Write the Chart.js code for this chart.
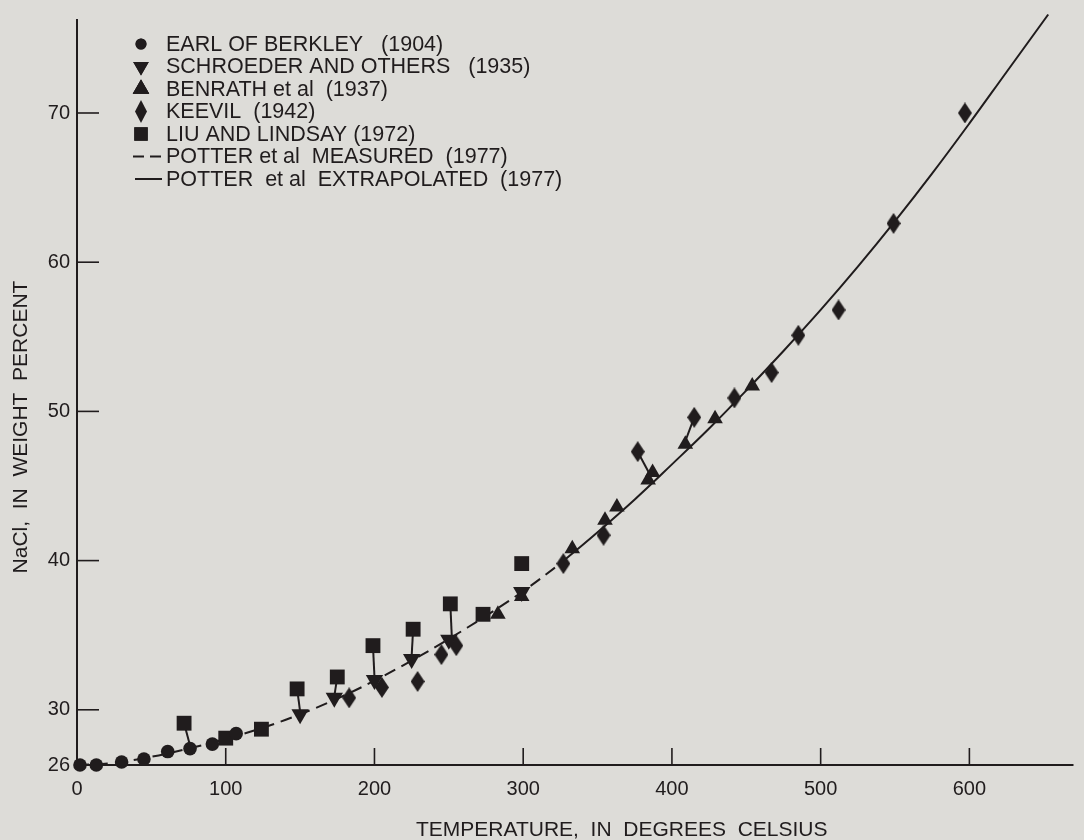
<!DOCTYPE html>
<html>
<head>
<meta charset="utf-8">
<script src="https://cdn.jsdelivr.net/npm/chart.js@4.4.1/dist/chart.umd.min.js"></script>
<style>
  html, body { margin: 0; padding: 0; background: #dddcd8; }
  #wrap { position: relative; width: 1084px; height: 840px; }
</style>
</head>
<body>
<div id="wrap"><canvas id="chart" width="1084" height="840"></canvas></div>
<script>
// values (temperature in deg C, NaCl in weight percent)
const BERKLEY_T = [2, 13, 30, 45, 61, 76, 91, 107];
const BERKLEY_V = [26.3, 26.3, 26.5, 26.7, 27.2, 27.4, 27.7, 28.4];

const SCHROEDER_T = [150, 173, 200, 225, 250, 299];
const SCHROEDER_V = [29.7, 30.8, 32.0, 33.4, 34.7, 37.9];

const BENRATH_T = [283, 299, 333, 355, 363, 384, 387, 409, 429, 454];
const BENRATH_V = [36.4, 37.6, 40.8, 42.7, 43.6, 45.4, 45.9, 47.8, 49.5, 51.7];

const KEEVIL_T = [183, 205, 229, 245, 255, 327, 354, 377, 415, 442, 467, 485, 512, 549, 597];
const KEEVIL_V = [30.8, 31.5, 31.9, 33.7, 34.3, 39.8, 41.7, 47.3, 49.6, 50.9, 52.6, 55.1, 56.8, 62.6, 70.0];

const LIU_T = [72, 100, 124, 148, 175, 199, 226, 251, 273, 299];
const LIU_V = [29.1, 28.1, 28.7, 31.4, 32.2, 34.3, 35.4, 37.1, 36.4, 39.8];

// Potter et al curve: measured part (dashed) then extrapolated (solid)
const MEASURED_T = [0, 25, 50, 75, 100, 125, 150, 175, 200, 225, 250, 275, 300, 325];
const MEASURED_V = [26.3, 26.45, 26.85, 27.4, 28.05, 28.8, 29.7, 30.75, 31.95, 33.3, 34.75, 36.3, 37.95, 39.8];
const EXTRAP_T = [325, 350, 375, 400, 425, 450, 475, 500, 525, 550, 575, 600, 625, 653];
const EXTRAP_V = [39.8, 41.9, 44.1, 46.45, 48.85, 51.4, 54.05, 56.8, 59.7, 62.75, 65.95, 69.3, 72.75, 76.6];

// short leader lines from offset symbols back to the curve: [t1, v1, t2, v2]
const LEADERS = [
  [72, 29.1, 76, 27.6],
  [148, 31.4, 150, 29.9],
  [175, 32.2, 173, 30.9],
  [199, 34.3, 200, 32.2],
  [226, 35.4, 225, 33.6],
  [251, 37.1, 252, 34.9],
  [377, 47.3, 385, 45.8],
  [415, 49.6, 409, 48.0],
];

const X_TICKS = [0, 100, 200, 300, 400, 500, 600];
const X_TICK_LABELS = ['0', '100', '200', '300', '400', '500', '600'];
const Y_TICKS = [26.3, 30, 40, 50, 60, 70];
const Y_TICK_LABELS = ['26', '30', '40', '50', '60', '70'];

const LEGEND_LABELS = [
  'EARL OF BERKLEY   (1904)',
  'SCHROEDER AND OTHERS   (1935)',
  'BENRATH et al  (1937)',
  'KEEVIL  (1942)',
  'LIU AND LINDSAY (1972)',
  'POTTER et al  MEASURED  (1977)',
  'POTTER  et al  EXTRAPOLATED  (1977)',
];

const INK = '#201c1d';
const FONT = '"Liberation Sans", Arial, Helvetica, sans-serif';

const pts = (xs, ys) => xs.map((x, i) => ({ x, y: ys[i] }));

// tall diamond used for Keevil
function makeDiamond(w, h) {
  const c = document.createElement('canvas');
  c.width = w; c.height = h;
  const g = c.getContext('2d');
  g.fillStyle = INK;
  g.beginPath();
  g.moveTo(w / 2, 0);
  g.lineTo(w, h / 2);
  g.lineTo(w / 2, h);
  g.lineTo(0, h / 2);
  g.closePath();
  g.fill();
  return c;
}
const diamond = makeDiamond(14, 21);
const diamondSmall = makeDiamond(12, 23);

const markerBase = { showLine: false, borderWidth: 0, backgroundColor: INK, borderColor: INK, order: 0, clip: false };

const datasets = [
  { ...markerBase, label: 'berkley', data: pts(BERKLEY_T, BERKLEY_V), pointStyle: 'circle', pointRadius: 6.8 },
  { ...markerBase, label: 'schroeder', data: pts(SCHROEDER_T, SCHROEDER_V), pointStyle: 'triangle', rotation: 180, pointRadius: 10 },
  { ...markerBase, label: 'benrath', data: pts(BENRATH_T, BENRATH_V), pointStyle: 'triangle', pointRadius: 9 },
  { ...markerBase, label: 'keevil', data: pts(KEEVIL_T, KEEVIL_V), pointStyle: diamond, pointRadius: 10 },
  { ...markerBase, label: 'liu', data: pts(LIU_T, LIU_V), pointStyle: 'rect', pointRadius: 10.5 },
  {
    label: 'measured', data: pts(MEASURED_T, MEASURED_V), showLine: true, pointRadius: 0,
    borderColor: INK, borderWidth: 2, borderDash: [12, 7], tension: 0.4, order: 5, clip: false,
  },
  {
    label: 'extrapolated', data: pts(EXTRAP_T, EXTRAP_V), showLine: true, pointRadius: 0,
    borderColor: INK, borderWidth: 2, tension: 0.4, order: 5, clip: false,
  },
];

LEADERS.forEach((l, i) => {
  datasets.push({
    label: 'leader' + i, data: [{ x: l[0], y: l[1] }, { x: l[2], y: l[3] }], showLine: true,
    pointRadius: 0, borderColor: INK, borderWidth: 2, order: 3,
  });
});

// axes lines, inward tick marks, axis titles and the key
const decorPlugin = {
  id: 'decor',
  beforeDraw(chart) {
    const { ctx } = chart;
    ctx.save();
    ctx.fillStyle = '#dddcd8';
    ctx.fillRect(0, 0, chart.width, chart.height);
    ctx.restore();
  },
  afterDatasetsDraw(chart) {
    const { ctx, chartArea: a, scales: { x, y } } = chart;
    ctx.save();
    ctx.strokeStyle = INK;
    ctx.lineWidth = 2;
    ctx.beginPath();
    ctx.moveTo(a.left, a.top);
    ctx.lineTo(a.left, a.bottom);
    ctx.lineTo(a.right, a.bottom);
    ctx.stroke();

    ctx.lineWidth = 1.6;
    X_TICKS.forEach(v => {
      if (v === 0) return;
      const px = x.getPixelForValue(v);
      ctx.beginPath();
      ctx.moveTo(px, a.bottom);
      ctx.lineTo(px, a.bottom - 17);
      ctx.stroke();
    });
    Y_TICKS.forEach((v, i) => {
      if (i === 0) return;
      const py = y.getPixelForValue(v);
      ctx.beginPath();
      ctx.moveTo(a.left, py);
      ctx.lineTo(a.left + 22, py);
      ctx.stroke();
    });

    // axis titles
    ctx.fillStyle = INK;
    ctx.font = '21px ' + FONT;
    ctx.textAlign = 'left';
    ctx.textBaseline = 'middle';
    ctx.fillText('TEMPERATURE,  IN  DEGREES  CELSIUS', 416, 830);
    ctx.save();
    ctx.translate(21, 427);
    ctx.rotate(-Math.PI / 2);
    ctx.textAlign = 'center';
    ctx.fillText('NaCl,  IN  WEIGHT  PERCENT', 0, 0);
    ctx.restore();

    // key
    const styles = [
      { pointStyle: 'circle', radius: 5.5, rotation: 0 },
      { pointStyle: 'triangle', radius: 9, rotation: 180 },
      { pointStyle: 'triangle', radius: 9.5, rotation: 0 },
      { pointStyle: diamondSmall, radius: 10, rotation: 0 },
      { pointStyle: 'rect', radius: 9.5, rotation: 0 },
    ];
    const rowY = i => 44 + i * 22.5;
    styles.forEach((s, i) => {
      Chart.helpers.drawPoint(ctx, { ...s, borderWidth: 0 }, 141, rowY(i));
      ctx.fill();
    });
    ctx.lineWidth = 2;
    ctx.setLineDash([11, 6]);
    ctx.beginPath();
    ctx.moveTo(133, rowY(5));
    ctx.lineTo(163, rowY(5));
    ctx.stroke();
    ctx.setLineDash([]);
    ctx.beginPath();
    ctx.moveTo(135, rowY(6));
    ctx.lineTo(162, rowY(6));
    ctx.stroke();

    ctx.fillStyle = INK;
    ctx.font = '21.5px ' + FONT;
    ctx.textAlign = 'left';
    LEGEND_LABELS.forEach((t, i) => ctx.fillText(t, 166, rowY(i) + 1));
    ctx.restore();
  },
};

new Chart(document.getElementById('chart'), {
  type: 'scatter',
  data: { datasets },
  plugins: [decorPlugin],
  options: {
    responsive: false,
    animation: false,
    events: [],
    layout: { padding: { top: 15, right: 0, left: 0, bottom: 0 } },
    plugins: { legend: { display: false }, tooltip: { enabled: false } },
    scales: {
      x: {
        type: 'linear',
        min: 0,
        max: 670,
        grid: { display: false, drawTicks: false },
        border: { display: false },
        afterBuildTicks: s => { s.ticks = X_TICKS.map(v => ({ value: v })); },
        afterFit: s => { s.height = 75; },
        ticks: {
          padding: 12,
          color: INK,
          font: { family: FONT, size: 20 },
          callback: (v) => X_TICK_LABELS[X_TICKS.indexOf(v)],
        },
      },
      y: {
        type: 'linear',
        min: 26.3,
        max: 76.3,
        grid: { display: false, drawTicks: false },
        border: { display: false },
        afterBuildTicks: s => { s.ticks = Y_TICKS.map(v => ({ value: v })); },
        afterFit: s => { s.width = 77; },
        ticks: {
          padding: 7,
          color: INK,
          font: { family: FONT, size: 20 },
          callback: (v) => Y_TICK_LABELS[Y_TICKS.indexOf(v)],
        },
      },
    },
  },
});
</script>
</body>
</html>
